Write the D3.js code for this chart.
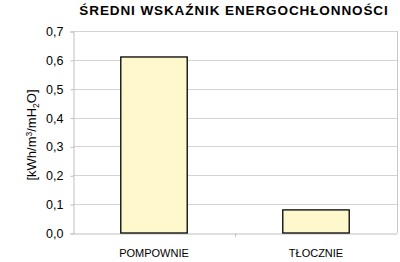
<!DOCTYPE html>
<html>
<head>
<meta charset="utf-8">
<script src="https://cdn.jsdelivr.net/npm/d3@7"></script>
<style>
  body { margin: 0; background: #fff; }
  svg { display: block; font-family: Arial, "Liberation Sans", sans-serif; }
</style>
</head>
<body>
<div id="plot"></div>
<script>
    // Data
    const categories = ['POMPOWNIE', 'TŁOCZNIE'];
    const values = [0.61, 0.08];
    const yTicks = [0, 0.1, 0.2, 0.3, 0.4, 0.5, 0.6, 0.7];

    const svgWidth = 400;
    const svgHeight = 262;
    const margin = { top: 31, right: 3, bottom: 29, left: 73 };

    const svg = d3.select('#plot')
        .append('svg')
        .attr('width', svgWidth)
        .attr('height', svgHeight);

    const xScale = d3.scaleBand()
        .domain(categories)
        .range([margin.left, svgWidth - margin.right])
        .paddingInner(0.59)
        .paddingOuter(0.295);

    const yScale = d3.scaleLinear()
        .domain([0, 0.7])
        .range([svgHeight - margin.bottom, margin.top]);

    const fmt = d => d3.format('.1f')(d).replace('.', ',');

    // gridlines
    svg.append('g')
        .selectAll('line')
        .data(yTicks.slice(1))
        .enter()
        .append('line')
        .attr('x1', margin.left)
        .attr('x2', svgWidth - margin.right)
        .attr('y1', d => Math.round(yScale(d)) + 0.5)
        .attr('y2', d => Math.round(yScale(d)) + 0.5)
        .attr('stroke', '#d4d4d4');

    // right border
    svg.append('line')
        .attr('x1', svgWidth - margin.right + 0.5)
        .attr('x2', svgWidth - margin.right + 0.5)
        .attr('y1', margin.top)
        .attr('y2', svgHeight - margin.bottom)
        .attr('stroke', '#c8c8c8');

    // y axis
    const yAxis = svg.append('g')
        .attr('transform', `translate(${margin.left + 0.5}, 0.5)`)
        .call(d3.axisLeft(yScale).tickValues(yTicks).tickFormat(fmt).tickSize(3).tickPadding(7));
    yAxis.select('.domain').attr('stroke', '#c0c0c0');
    yAxis.selectAll('.tick line').attr('stroke', '#c0c0c0');
    yAxis.selectAll('text')
        .style('font-size', '12.5px')
        .attr('fill', '#000');

    // x axis
    const xAxis = svg.append('g')
        .attr('transform', `translate(0, ${svgHeight - margin.bottom + 0.5})`)
        .call(d3.axisBottom(xScale).tickSize(0).tickPadding(16));
    xAxis.select('.domain').attr('stroke', '#c0c0c0');
    xAxis.selectAll('text')
        .style('font-size', '11px')
        .style('letter-spacing', '0px')
        .attr('fill', '#000');

    // tick between categories
    const step = xScale.step();
    svg.append('line')
        .attr('x1', Math.round(margin.left + step) + 0.5)
        .attr('x2', Math.round(margin.left + step) + 0.5)
        .attr('y1', svgHeight - margin.bottom)
        .attr('y2', svgHeight - margin.bottom + 4)
        .attr('stroke', '#c0c0c0');

    // bars
    svg.selectAll('.bar')
        .data(categories)
        .enter()
        .append('rect')
        .attr('class', 'bar')
        .attr('x', d => xScale(d))
        .attr('y', (d, i) => yScale(values[i]))
        .attr('width', xScale.bandwidth())
        .attr('height', (d, i) => yScale(0) - yScale(values[i]))
        .attr('fill', '#fff8cc')
        .attr('stroke', '#000')
        .attr('stroke-width', 1.3);

    // title
    svg.append('text')
        .attr('x', 234)
        .attr('y', 15)
        .attr('text-anchor', 'middle')
        .style('font-size', '13.5px')
        .style('font-weight', 'bold')
        .style('letter-spacing', '0.9px')
        .text('ŚREDNI WSKAŹNIK ENERGOCHŁONNOŚCI');

    // y label
    const yl = svg.append('text')
        .attr('transform', 'translate(36, 135) rotate(-90)')
        .attr('text-anchor', 'middle')
        .style('font-size', '13px');
    yl.append('tspan').text('[kWh/m');
    yl.append('tspan').attr('dy', -4).style('font-size', '8.5px').text('3');
    yl.append('tspan').attr('dy', 4).text('/mH');
    yl.append('tspan').attr('dy', 3).style('font-size', '8.5px').text('2');
    yl.append('tspan').attr('dy', -3).text('O]');
</script>
</body>
</html>
